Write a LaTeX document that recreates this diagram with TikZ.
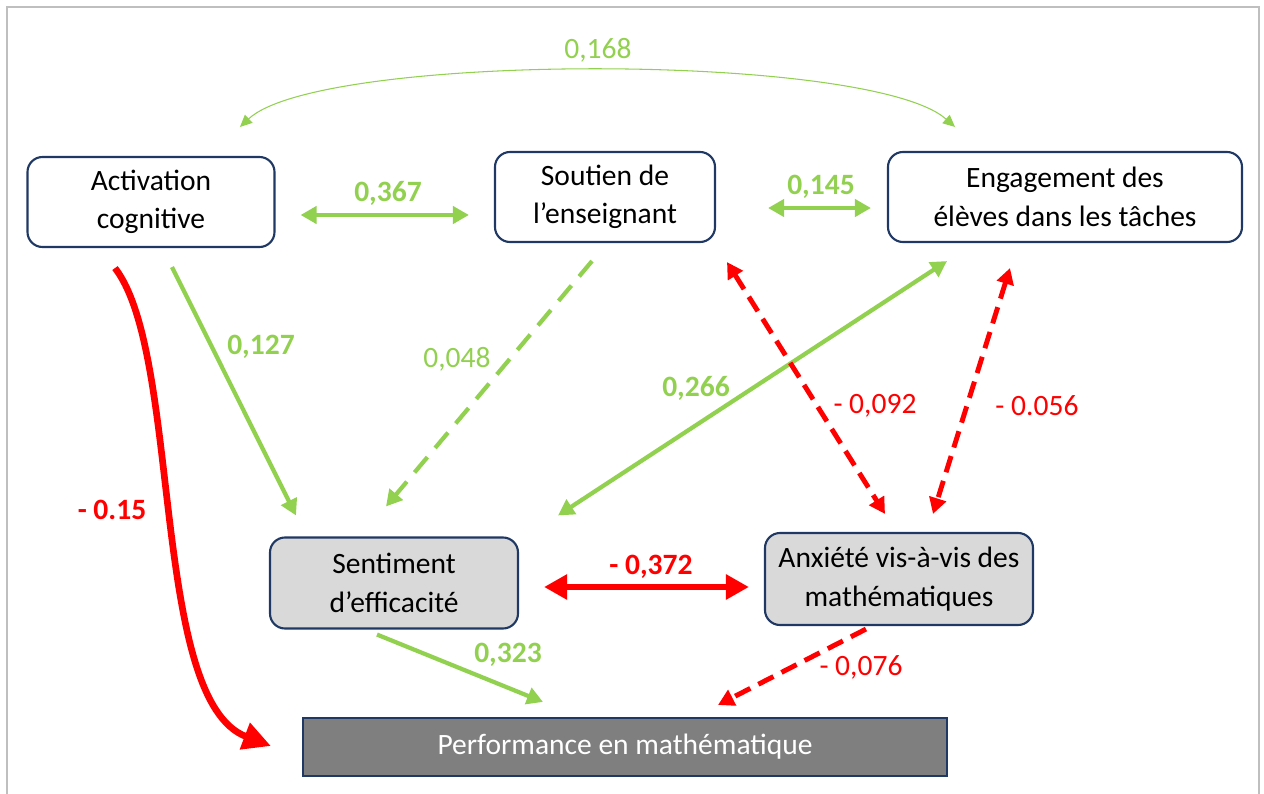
\documentclass[tikz,border=0pt]{standalone}
\usepackage{fontspec}
\setmainfont{Carlito}
\usetikzlibrary{arrows.meta,calc}
\definecolor{vert}{HTML}{92D050}
\definecolor{rouge}{HTML}{FF0000}
\definecolor{marine}{HTML}{203864}
\definecolor{grisclair}{HTML}{D9D9D9}
\definecolor{grisfonce}{HTML}{7F7F7F}
\newcommand{\txt}{\fontsize{16.8}{21.8}\selectfont}

\begin{document}
\begin{tikzpicture}[x=0.2mm,y=-0.2mm,
box/.style={draw=marine,line width=1.2pt,rounded corners=3mm,align=center,font=\txt,inner sep=0pt},
lab/.style={font=\txt,inner sep=1pt},
vtip/.style={-{Triangle[length=3.2mm,width=3.4mm]}},
vboth/.style={{Triangle[length=3.2mm,width=3.4mm]}-{Triangle[length=3.2mm,width=3.4mm]}},
posline/.style={vert,line width=2.4pt},
negline/.style={rouge,line width=2.8pt,dash pattern=on 3.4mm off 1.8mm}]
\useasboundingbox (0,0) rectangle (1264,793);
\draw[black!25,line width=1.2pt] (7,7) rectangle (1259,830);

% variables
\node[box,minimum width=49.4mm,minimum height=18mm] (act) at (151,202) {Activation\\cognitive};
\node[box,minimum width=44mm,minimum height=18mm] (sout) at (605,197) {Soutien de\\l’enseignant};
\node[box,minimum width=70.8mm,minimum height=18mm] (eng) at (1065,197) {Engagement des\\élèves dans les tâches};
\node[box,fill=grisclair,minimum width=49.6mm,minimum height=18.2mm] (sent) at (394,583) {Sentiment\\d’efficacité};
\node[box,fill=grisclair,minimum width=53.6mm,minimum height=18.4mm] (anx) at (899,579) {Anxiété vis-à-vis des\\mathématiques};
\node[box,rounded corners=0pt,fill=grisfonce,text=white,minimum width=128.8mm,minimum height=11.6mm] (perf) at (625,747) {Performance en mathématique};

% correlations
\draw[vert,line width=0.6pt,{Triangle[length=2.4mm,width=2.2mm]}-{Triangle[length=2.4mm,width=2.2mm]}]
  ($(act.north)+(89,-29)$) .. controls (320,52) and (870,52) .. ($(eng.north)+(-110,-24)$);
\draw[posline,vboth] ($(act.east)+(25,13)$) -- ($(sout.west)+(-25,18)$);
\draw[posline,vboth] ($(sout.east)+(52,11)$) -- ($(eng.west)+(-16,11)$);
\draw[posline,vboth] ($(sent.north)+(164,-21)$) -- ($(eng.south)+(-118,18)$);
\draw[negline,vboth] ($(sout.south)+(122,19)$) -- ($(anx.north)+(-14,-18)$);
\draw[negline,vboth] ($(eng.south)+(-55,25)$) -- ($(anx.north)+(34,-18)$);
\draw[rouge,line width=3.6pt,{Triangle[length=4.6mm,width=4.8mm]}-{Triangle[length=4.6mm,width=4.8mm]}]
  ($(sent.east)+(25,4)$) -- ($(anx.west)+(-15,8)$);

% effets
\draw[posline,vtip] ($(act.south)+(21,19)$) -- ($(sent.north)+(-98,-21)$);
\draw[posline,vtip,dash pattern=on 4mm off 2.4mm] ($(sout.south)+(-13,18)$) -- ($(sent.north)+(-8,-30)$);
\draw[posline,vtip] ($(sent.south)+(-17,5)$) -- ($(perf.north)+(-82,-15)$);
\draw[negline,vtip] ($(anx.south)+(-33,3)$) -- ($(perf.north)+(93,-12)$);
\draw[rouge,line width=3.8pt,-{Triangle[length=5.6mm,width=5.4mm]}]
  ($(act.south)+(-36,20)$) .. controls (182,355) and (150,700) .. ($(perf.west)+(-31,-1)$);

% coefficients
\node[lab,vert] (c1) at (598,50) {0,168};
\node[lab,vert,font=\txt\bfseries] (c2) at (388,193) {0,367};
\node[lab,vert,font=\txt\bfseries] (c3) at (821,187) {0,145};
\node[lab,vert,font=\txt\bfseries] (c4) at (261,347) {0,127};
\node[lab,vert] (c5) at (457,359) {0,048};
\node[lab,vert,font=\txt\bfseries] (c6) at (696,388) {0,266};
\node[lab,rouge] (c7) at (875,406) {- 0,092};
\node[lab,rouge] (c8) at (1037,406) {- 0.056};
\node[lab,rouge,font=\txt\bfseries] (c9) at (651,567) {- 0,372};
\node[lab,vert,font=\txt\bfseries] (c10) at (508,655) {0,323};
\node[lab,rouge] (c11) at (861,667) {- 0,076};
\node[lab,rouge,font=\txt\bfseries] (c12) at (112,510) {- 0.15};
\end{tikzpicture}
\end{document}
